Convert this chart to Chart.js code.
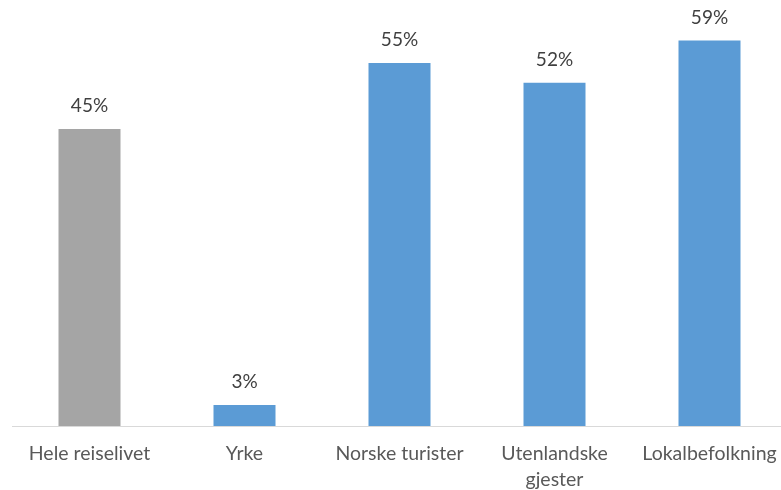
<!DOCTYPE html>
<html>
<head>
<meta charset="utf-8">
<script src="https://cdn.jsdelivr.net/npm/chart.js@4/dist/chart.umd.min.js"></script>
<style>
  html, body { margin: 0; padding: 0; background: #fff; overflow: hidden; }
  #wrap { width: 790px; height: 490px; }
</style>
</head>
<body>
<div id="wrap"><canvas id="myChart" width="790" height="490"></canvas></div>
<script>
// Chart data
const categories = ['Hele reiselivet', 'Yrke', 'Norske turister', ['Utenlandske', 'gjester'], 'Lokalbefolkning'];
const values = [45, 3.2, 55, 52, 58.4];
const valueLabels = ['45%', '3%', '55%', '52%', '59%'];
const barColors = ['#A5A5A5', '#5B9BD5', '#5B9BD5', '#5B9BD5', '#5B9BD5'];

// Draw value labels above each bar
const barLabels = {
  id: 'barLabels',
  afterDatasetsDraw(chart) {
    const ctx = chart.ctx;
    const meta = chart.getDatasetMeta(0);
    ctx.save();
    ctx.font = '19px Lato, sans-serif';
    ctx.fillStyle = '#404040';
    ctx.textAlign = 'center';
    ctx.textBaseline = 'middle';
    meta.data.forEach((bar, i) => {
      ctx.fillText(valueLabels[i], bar.x, bar.y - 23);
    });
    ctx.restore();
  }
};

const ctx = document.getElementById('myChart').getContext('2d');
const myChart = new Chart(ctx, {
  type: 'bar',
  data: {
    labels: categories,
    datasets: [{
      data: values,
      backgroundColor: barColors,
      categoryPercentage: 1,
      barPercentage: 0.4
    }]
  },
  options: {
    responsive: false,
    animation: false,
    layout: { padding: { top: 30, left: 12, right: 3, bottom: 0 } },
    plugins: { legend: { display: false }, tooltip: { enabled: false } },
    scales: {
      x: {
        grid: { display: false },
        border: { color: '#D9D9D9', width: 1 },
        ticks: {
          color: '#595959',
          font: { family: 'Lato, sans-serif', size: 19.5, lineHeight: 1.33 },
          padding: 7,
          maxRotation: 0,
          autoSkip: false
        },
        afterFit(scale) { scale.height = 64; }
      },
      y: {
        display: false,
        min: 0,
        max: 60
      }
    }
  },
  plugins: [barLabels]
});
</script>
</body>
</html>
